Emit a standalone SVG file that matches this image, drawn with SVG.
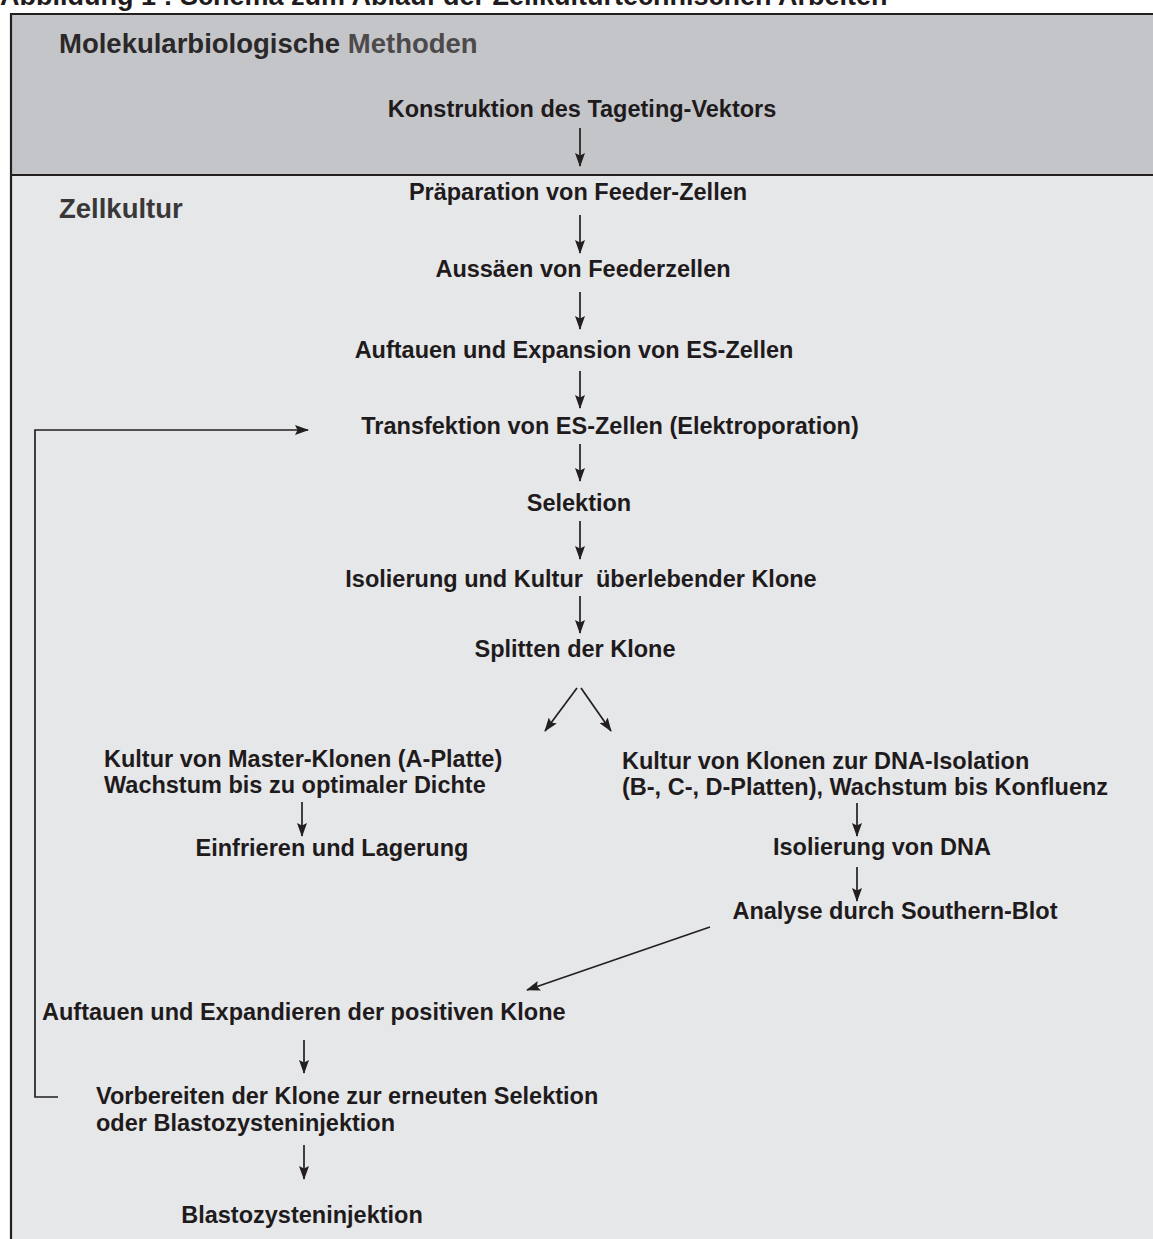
<svg xmlns="http://www.w3.org/2000/svg" width="1153" height="1239" viewBox="0 0 1153 1239">
<defs>
<marker id="ah" viewBox="0 0 14 10" refX="13" refY="5" markerWidth="14" markerHeight="10" markerUnits="userSpaceOnUse" orient="auto">
<path d="M0,0 L14,5 L0,10 L2.5,5 z" fill="#231f20"/>
</marker>
<style>
.t{font-family:"Liberation Sans",Arial,sans-serif;font-weight:bold;font-size:23.5px;fill:#1f1b1c}
.h{font-family:"Liberation Sans",Arial,sans-serif;font-weight:bold;font-size:27.5px;fill:#2b2829}
.c{text-anchor:middle}
.a{fill:none;stroke:#231f20;stroke-width:1.7;marker-end:url(#ah)}
</style>
</defs>
<rect x="0" y="0" width="1153" height="1239" fill="#ffffff"/>
<text x="0" y="5" class="t" style="font-size:27px">Abbildung 1 : Schema zum Ablauf der Zellkulturtechnischen Arbeiten</text>
<g id="frame">
<rect x="11" y="13" width="1160" height="162" fill="#c4c5c9"/>
<rect x="11" y="175" width="1160" height="1080" fill="#e6e7e9"/>
<path d="M11,1245 V14 H1160" fill="none" stroke="#231f20" stroke-width="2.2"/>
<path d="M11,175 H1160" fill="none" stroke="#231f20" stroke-width="2.2"/>
</g>
<g id="section-mol"><text x="59" y="53" class="h">Molekularbiologische <tspan fill="#4d4a4b">Methoden</tspan></text></g>
<g id="section-zell"><text x="59" y="218" class="h" style="fill:#3a3738">Zellkultur</text></g>
<g id="n1"><text x="582" y="117" class="t c">Konstruktion des Tageting-Vektors</text></g>
<g id="n2"><text x="578" y="200" class="t c">Präparation von Feeder-Zellen</text></g>
<g id="n3"><text x="583" y="277" class="t c">Aussäen von Feederzellen</text></g>
<g id="n4"><text x="574" y="358" class="t c">Auftauen und Expansion von ES-Zellen</text></g>
<g id="n5"><text x="610" y="434" class="t c">Transfektion von ES-Zellen (Elektroporation)</text></g>
<g id="n6"><text x="579" y="511" class="t c">Selektion</text></g>
<g id="n7"><text x="581" y="587" class="t c" xml:space="preserve">Isolierung und Kultur  überlebender Klone</text></g>
<g id="n8"><text x="575" y="657" class="t c">Splitten der Klone</text></g>
<g id="n9"><text x="104" y="767" class="t">Kultur von Master-Klonen (A-Platte)</text><text x="104" y="793" class="t">Wachstum bis zu optimaler Dichte</text></g>
<g id="n10"><text x="332" y="856" class="t c">Einfrieren und Lagerung</text></g>
<g id="n11"><text x="622" y="769" class="t">Kultur von Klonen zur DNA-Isolation</text><text x="622" y="795" class="t">(B-, C-, D-Platten), Wachstum bis Konfluenz</text></g>
<g id="n12"><text x="882" y="855" class="t c">Isolierung von DNA</text></g>
<g id="n13"><text x="895" y="919" class="t c">Analyse durch Southern-Blot</text></g>
<g id="n14"><text x="42" y="1020" class="t">Auftauen und Expandieren der positiven Klone</text></g>
<g id="n15"><text x="96" y="1104" class="t">Vorbereiten der Klone zur erneuten Selektion</text><text x="96" y="1131" class="t">oder Blastozysteninjektion</text></g>
<g id="n16"><text x="302" y="1223" class="t c">Blastozysteninjektion</text></g>
<g id="connectors">
<path class="a" d="M580,128 V166"/>
<path class="a" d="M580,215 V253"/>
<path class="a" d="M580,292 V329"/>
<path class="a" d="M580,371 V408"/>
<path class="a" d="M580,444 V481"/>
<path class="a" d="M580,521 V559"/>
<path class="a" d="M580,596 V633"/>
<path class="a" d="M577,688 L545,731"/>
<path class="a" d="M581,688 L611,731"/>
<path class="a" d="M302,802 V836"/>
<path class="a" d="M857,803 V836"/>
<path class="a" d="M857,867 V901"/>
<path class="a" d="M710,927 L527,990"/>
<path class="a" d="M304,1040 V1073"/>
<path class="a" d="M304,1145 V1179"/>
<path class="a" d="M58,1097 H35 V430 H308"/>
</g>
</svg>
